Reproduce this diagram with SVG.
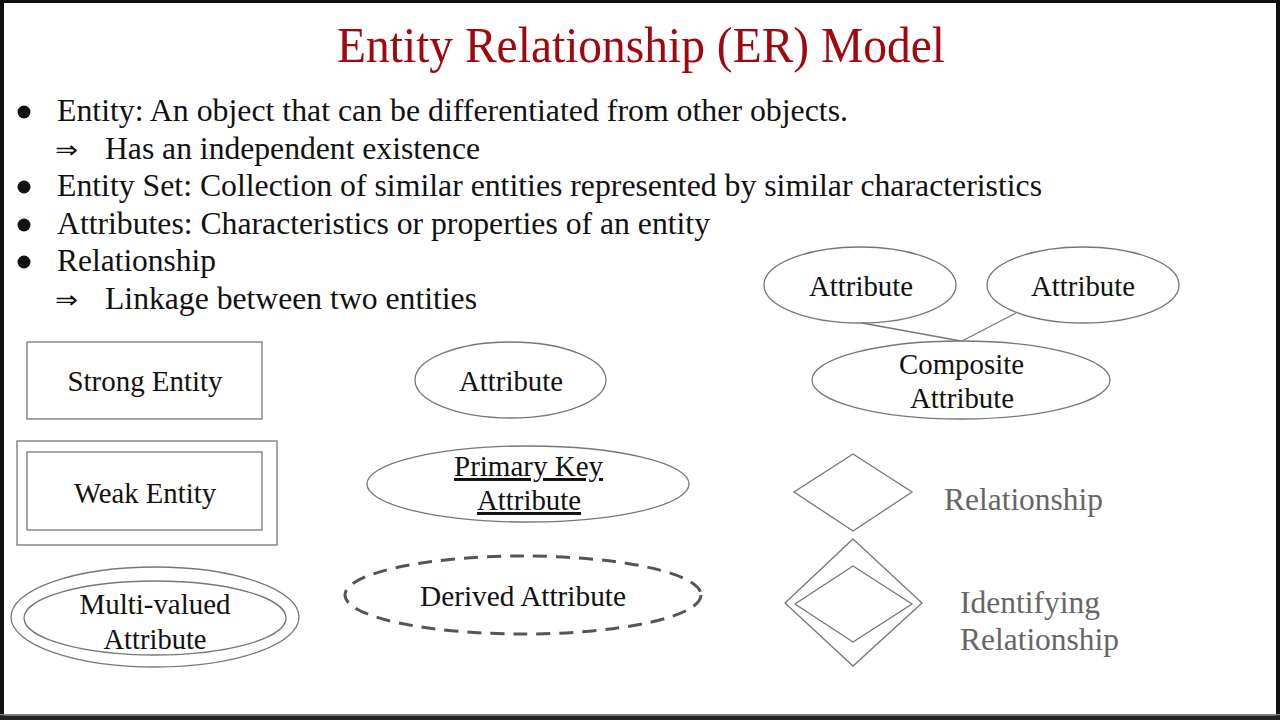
<svg xmlns="http://www.w3.org/2000/svg" width="1280" height="720" viewBox="0 0 1280 720">
<style>
.t{font-family:"Liberation Serif","Times New Roman",serif;fill:#111}
.title{font-family:"Liberation Serif","Times New Roman",serif;fill:#a0080e;font-size:50px}
.b{font-size:32.5px}
.n{font-size:29.5px;text-anchor:middle}
.g{font-family:"Liberation Serif","Times New Roman",serif;fill:#666;font-size:32.5px}
.s{fill:none;stroke:#777;stroke-width:1.3}
.ar{font-family:"DejaVu Sans",sans-serif;font-size:24px;fill:#111}
</style>
<rect x="0" y="0" width="1280" height="720" fill="#fff"/>
<g id="frame">
<rect x="0" y="0" width="1280" height="3" fill="#111"/>
<rect x="0" y="0" width="4" height="720" fill="#111"/>
<rect x="1276" y="0" width="4" height="720" fill="#111"/>
<rect x="0" y="714" width="1280" height="1.5" fill="#888"/>
<rect x="0" y="715.5" width="1280" height="4.5" fill="#222"/>
</g>
<g id="title">
<text class="title" x="337" y="62" textLength="608" lengthAdjust="spacingAndGlyphs">Entity Relationship (ER) Model</text>
</g>
<g id="bullets">
<circle cx="24" cy="112" r="6.5" fill="#111"/>
<text class="t b" x="57" y="121" textLength="791" lengthAdjust="spacingAndGlyphs">Entity: An object that can be differentiated from other objects.</text>
<text class="ar" x="55" y="158" textLength="23" lengthAdjust="spacingAndGlyphs">⇒</text>
<text class="t b" x="105" y="159" textLength="375" lengthAdjust="spacingAndGlyphs">Has an independent existence</text>
<circle cx="24" cy="187" r="6.5" fill="#111"/>
<text class="t b" x="57" y="196" textLength="985" lengthAdjust="spacingAndGlyphs">Entity Set: Collection of similar entities represented by similar characteristics</text>
<circle cx="24" cy="225" r="6.5" fill="#111"/>
<text class="t b" x="57" y="234" textLength="653" lengthAdjust="spacingAndGlyphs">Attributes: Characteristics or properties of an entity</text>
<circle cx="24" cy="262" r="6.5" fill="#111"/>
<text class="t b" x="57" y="271" textLength="159" lengthAdjust="spacingAndGlyphs">Relationship</text>
<text class="ar" x="55" y="308" textLength="23" lengthAdjust="spacingAndGlyphs">⇒</text>
<text class="t b" x="105" y="309" textLength="372" lengthAdjust="spacingAndGlyphs">Linkage between two entities</text>
</g>
<g id="connectors">
<line class="s" x1="862" y1="323" x2="961" y2="341"/>
<line class="s" x1="1016" y1="313" x2="962" y2="341"/>
</g>
<g id="strong-entity">
<rect class="s" x="27" y="342" width="235" height="77"/>
<text class="t n" x="145" y="391" textLength="155" lengthAdjust="spacingAndGlyphs">Strong Entity</text>
</g>
<g id="weak-entity">
<rect class="s" x="17" y="441" width="260" height="104"/>
<rect class="s" x="27" y="452" width="235" height="78"/>
<text class="t n" x="145" y="503" textLength="142" lengthAdjust="spacingAndGlyphs">Weak Entity</text>
</g>
<g id="multi-valued">
<ellipse class="s" cx="155" cy="617" rx="144" ry="50"/>
<ellipse class="s" cx="155" cy="618" rx="131" ry="37"/>
<text class="t n" x="155" y="614" textLength="151" lengthAdjust="spacingAndGlyphs">Multi-valued</text>
<text class="t n" x="155" y="649" textLength="103" lengthAdjust="spacingAndGlyphs">Attribute</text>
</g>
<g id="attribute">
<ellipse class="s" cx="510.5" cy="380" rx="95.5" ry="38"/>
<text class="t n" x="511" y="391" textLength="104" lengthAdjust="spacingAndGlyphs">Attribute</text>
</g>
<g id="primary-key">
<ellipse class="s" cx="528" cy="484" rx="161" ry="38"/>
<text class="t n" x="528.5" y="476" textLength="149" lengthAdjust="spacingAndGlyphs" text-decoration="underline">Primary Key</text>
<text class="t n" x="529" y="510" textLength="104" lengthAdjust="spacingAndGlyphs" text-decoration="underline">Attribute</text>
</g>
<g id="derived">
<ellipse cx="523" cy="595" rx="178" ry="39" fill="none" stroke="#555" stroke-width="3" stroke-dasharray="14 9"/>
<text class="t n" x="523" y="606" textLength="206" lengthAdjust="spacingAndGlyphs">Derived Attribute</text>
</g>
<g id="attr-1">
<ellipse class="s" cx="860" cy="285" rx="96" ry="38"/>
<text class="t n" x="861" y="296" textLength="104" lengthAdjust="spacingAndGlyphs">Attribute</text>
</g>
<g id="attr-2">
<ellipse class="s" cx="1083" cy="285" rx="96" ry="38"/>
<text class="t n" x="1083" y="296" textLength="104" lengthAdjust="spacingAndGlyphs">Attribute</text>
</g>
<g id="composite">
<ellipse class="s" cx="961" cy="380" rx="149" ry="39"/>
<text class="t n" x="961.5" y="374" textLength="125" lengthAdjust="spacingAndGlyphs">Composite</text>
<text class="t n" x="962" y="408" textLength="104" lengthAdjust="spacingAndGlyphs">Attribute</text>
</g>
<g id="relationship">
<polygon class="s" points="853,454 912,492 853,531 794,492"/>
<text class="g" x="944" y="510" textLength="159" lengthAdjust="spacingAndGlyphs">Relationship</text>
</g>
<g id="identifying-relationship">
<polygon class="s" points="853,539 922,603 853,666 785,603"/>
<polygon class="s" points="853,566 912,604 853,642 795,604"/>
<text class="g" x="960" y="613" textLength="140" lengthAdjust="spacingAndGlyphs">Identifying</text>
<text class="g" x="960" y="650" textLength="159" lengthAdjust="spacingAndGlyphs">Relationship</text>
</g>
</svg>
